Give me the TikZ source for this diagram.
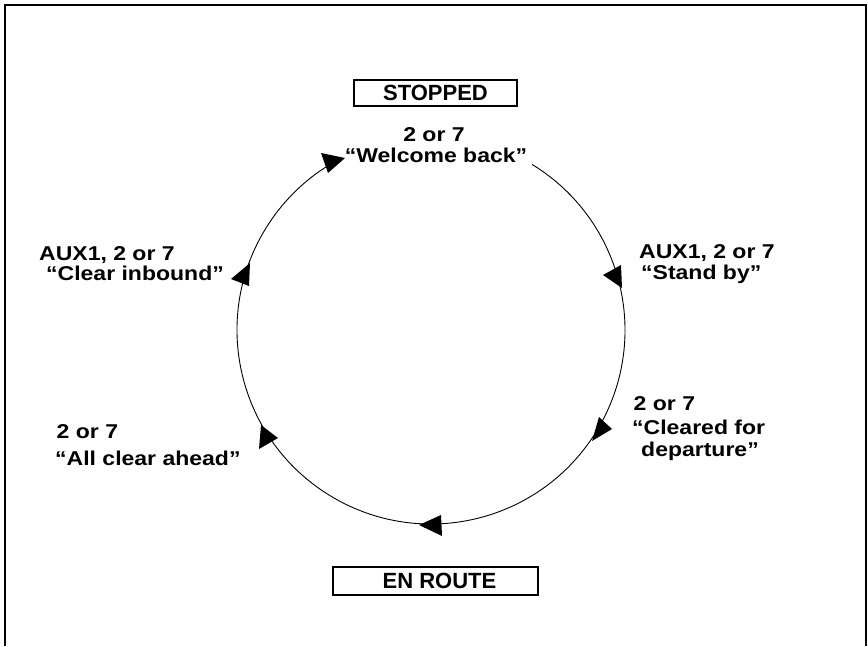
\documentclass[tikz,border=0pt]{standalone}
\usepackage{fontspec}
\setmainfont{Liberation Sans}
\newfontfamily\lblfont{Liberation Sans}[FakeStretch=1.15]
\begin{document}
\begin{tikzpicture}[x=1pt,y=1pt,
  lbl/.style={font=\lblfont\bfseries\fontsize{20}{22}\selectfont, inner sep=0pt, anchor=base west},
  clbl/.style={lbl, anchor=base},
  statebox/.style={draw, line width=1.8pt, inner sep=0pt, font=\bfseries\fontsize{22}{26}\selectfont},
  arrowhead/.style={fill=black, draw=none},
  ring/.style={line width=0.9pt},
  frame/.style={line width=2pt}]
\useasboundingbox (0,0) rectangle (868,-646);
% frame (open at the bottom)
\draw[frame] (5,-646) -- (5,-5) -- (866,-5) -- (866,-646);
% state boxes
\node[statebox, minimum width=163pt, minimum height=26pt] (stopped) at (435.5,-93) {STOPPED};
\node[statebox, minimum width=205pt, minimum height=28pt] (enroute) at (435.5,-581) {\hspace{8pt}EN ROUTE};
% cycle
\coordinate (c) at (431,-330);
\draw[ring] (c) ++(58.6:194) arc[start angle=58.6, end angle=-237.2, radius=194pt];
% arrowheads
\fill[arrowhead] (345,-158) -- (321,-153) -- (328,-173) -- cycle;
\fill[arrowhead] (231,-279) -- (250,-263) -- (249,-286) -- cycle;
\fill[arrowhead] (278,-438) -- (261,-425) -- (259,-449) -- cycle;
\fill[arrowhead] (419,-525) -- (441,-515) -- (442,-536) -- cycle;
\fill[arrowhead] (612,-429) -- (599,-417) -- (592,-441) -- cycle;
\fill[arrowhead] (603,-275) -- (621,-265) -- (622,-288) -- cycle;
% labels
\node[clbl] (t1) at (434,-141) {2 or 7};
\node[clbl] (t2) at (436,-162) {“Welcome back”};
\node[lbl] (r1) at (639,-258) {AUX1, 2 or 7};
\node[lbl] (r2) at (641,-279) {“Stand by”};
\node[lbl] (d1) at (633.5,-410) {2 or 7};
\node[lbl] (d2) at (632,-434) {“Cleared for};
\node[lbl] (d3) at (641,-456) {departure”};
\node[lbl] (l1) at (39,-260) {AUX1, 2 or 7};
\node[lbl] (l2) at (46,-280) {“Clear inbound”};
\node[lbl] (a1) at (56.5,-438) {2 or 7};
\node[lbl] (a2) at (55,-465) {“All clear ahead”};
\end{tikzpicture}
\end{document}
